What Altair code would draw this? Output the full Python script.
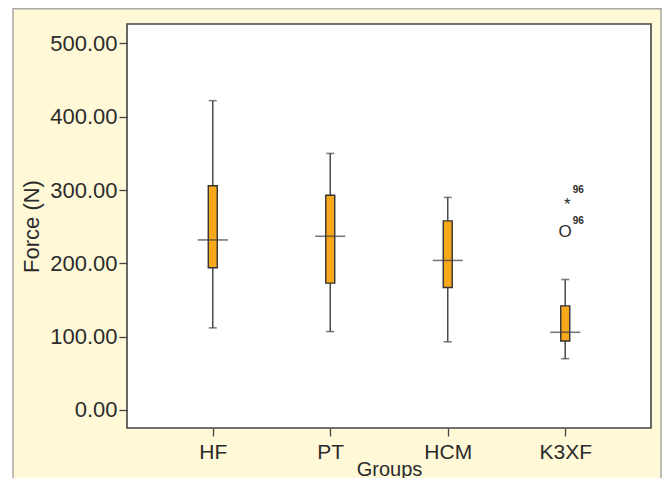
import altair as alt
import pandas as pd

groups = ["HF", "PT", "HCM", "K3XF"]
whisker_low = [112, 107, 93, 70]
q1 = [194, 173, 167, 94]
median = [232, 237, 204, 106]
q3 = [306, 293, 258, 142]
whisker_high = [422, 350, 290, 178]

out_groups = ["K3XF", "K3XF"]
out_values = [244, 286]
out_symbols = ["O", "*"]
out_labels = ["96", "96"]

y_ticks = [0, 100, 200, 300, 400, 500]

W, H = 524, 404
FONT = "Liberation Sans"
TXT = "#2b2b2b"

df = pd.DataFrame({
    "group": groups, "low": whisker_low, "q1": q1,
    "median": median, "q3": q3, "high": whisker_high,
})
outs = pd.DataFrame({"group": out_groups, "value": out_values,
                     "sym": out_symbols, "lab": out_labels})
one = pd.DataFrame({"a": [0]})

xscale = alt.Scale(type="point", domain=groups, padding=0.73)
yscale = alt.Scale(domain=[-24.6, 526.6], nice=False, zero=False)

xenc = alt.X("group:N", scale=xscale, sort=groups,
             axis=alt.Axis(title="Groups", labelAngle=0, labelFontSize=21,
                           labelFont=FONT, labelColor=TXT, labelPadding=5,
                           tickSize=8, tickColor="#444444", tickWidth=1.3,
                           domain=False, grid=False, titleFont=FONT,
                           titleFontSize=20, titleFontWeight="normal",
                           titleColor=TXT, titleBaseline="alphabetic",
                           titleY=47, zindex=1))
yaxis = alt.Axis(title="Force (N)", values=y_ticks, format=".2f",
                 labelFontSize=22, labelFont=FONT, labelColor=TXT,
                 labelPadding=2, tickSize=8, tickColor="#444444",
                 tickWidth=1.3, domain=False, grid=False, titleFont=FONT,
                 titleFontSize=22, titleFontWeight="normal", titleColor=TXT,
                 titlePadding=6, zindex=1)

panel = alt.Chart(one).mark_rect(fill="#FFF9D8", strokeWidth=0).encode(
    x=alt.value(-114), x2=alt.value(535), y=alt.value(-16), y2=alt.value(454))
left_border = alt.Chart(one).mark_rule(color="#A8A8A8", strokeWidth=1.5).encode(
    x=alt.value(-114), y=alt.value(-16), y2=alt.value(454))
top_border = alt.Chart(one).mark_rule(color="#A8A8A8", strokeWidth=1.5).encode(
    x=alt.value(-114), x2=alt.value(535), y=alt.value(-15.3))
right_border = alt.Chart(one).mark_rule(color="#A8A8A8", strokeWidth=1.5).encode(
    x=alt.value(534), y=alt.value(-16), y2=alt.value(454))
plot_bg = alt.Chart(one).mark_rect(fill="white", stroke="#444444", strokeWidth=1.6).encode(
    x=alt.value(0), x2=alt.value(W), y=alt.value(0), y2=alt.value(H))

base = alt.Chart(df)
whisk = base.mark_rule(color="#4a4a4a", strokeWidth=1.5).encode(
    x=xenc, y=alt.Y("low:Q", scale=yscale, axis=yaxis), y2="high:Q")
caps_lo = base.mark_tick(orient="horizontal", size=8, thickness=1.6, color="#4a4a4a").encode(
    x=xenc, y=alt.Y("low:Q", scale=yscale, axis=yaxis))
caps_hi = base.mark_tick(orient="horizontal", size=8, thickness=1.6, color="#4a4a4a").encode(
    x=xenc, y=alt.Y("high:Q", scale=yscale, axis=yaxis))
box = base.mark_bar(size=9, fill="#F7A81B", stroke="#333333", strokeWidth=1.4).encode(
    x=xenc, y=alt.Y("q1:Q", scale=yscale, axis=yaxis), y2="q3:Q")
med = base.mark_tick(orient="horizontal", size=30, thickness=1.6, color="#404040").encode(
    x=xenc, y=alt.Y("median:Q", scale=yscale, axis=yaxis))

o_circle = alt.Chart(outs).transform_filter(alt.datum.sym == "O").mark_text(
    font=FONT, fontSize=17, color=TXT, baseline="middle", align="center", dy=1).encode(
    x=xenc, y=alt.Y("value:Q", scale=yscale, axis=yaxis), text="sym:N")
o_star = alt.Chart(outs).transform_filter(alt.datum.sym == "*").mark_text(
    font=FONT, fontSize=17, color=TXT, baseline="middle", align="center", dx=2, dy=5).encode(
    x=xenc, y=alt.Y("value:Q", scale=yscale, axis=yaxis), text="sym:N")
olab = alt.Chart(outs).mark_text(font=FONT, fontSize=10, fontWeight="bold", color=TXT,
                                 baseline="middle", align="center", dx=13, dy=-10).encode(
    x=xenc, y=alt.Y("value:Q", scale=yscale, axis=yaxis), text="lab:N")

chart = alt.layer(panel, left_border, top_border, right_border, plot_bg,
                  whisk, caps_lo, caps_hi, box, med, o_circle, o_star, olab).properties(
    width=W, height=H,
    autosize=alt.AutoSizeParams(type="none"),
    padding={"left": 119, "top": 16, "right": 11, "bottom": 50},
    background="white",
).configure_view(strokeWidth=0)

chart.save("out.html", embed_options={"renderer": "svg", "actions": False})
